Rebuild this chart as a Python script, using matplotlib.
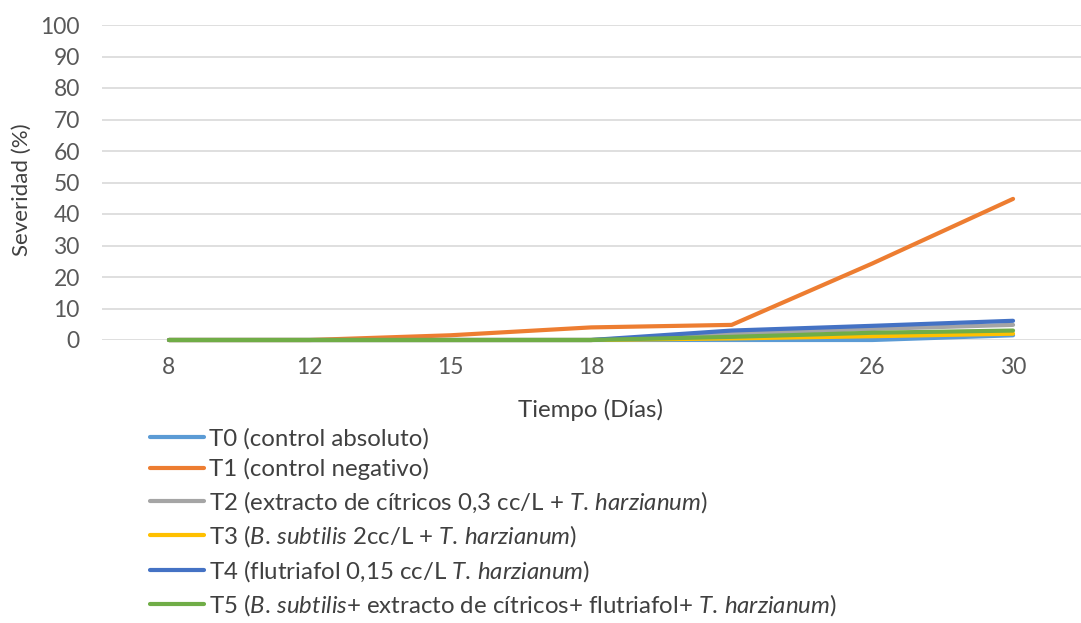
import matplotlib
matplotlib.use("Agg")
import matplotlib.pyplot as plt

plt.rcParams['font.family'] = ['Lato', 'DejaVu Sans']
plt.rcParams['mathtext.fontset'] = 'custom'
plt.rcParams['mathtext.it'] = 'Lato:italic'
plt.rcParams['mathtext.rm'] = 'Lato'

dias = ["8", "12", "15", "18", "22", "26", "30"]
t0 = [0, 0, 0, 0, 0, 0, 1.5]
t1 = [0, 0, 1.5, 4, 4.8, 24.3, 44.8]
t2 = [0, 0, 0, 0, 2, 3.5, 4.8]
t3 = [0, 0, 0, 0, 0.5, 1.2, 2]
t4 = [0, 0, 0, 0, 3, 4.5, 6.1]
t5 = [0, 0, 0, 0, 1, 2.3, 3]

labels = [
    "T0 (control absoluto)",
    "T1 (control negativo)",
    r"T2 (extracto de cítricos 0,3 cc/L + $\mathit{T.\,harzianum}$)",
    r"T3 ($\mathit{B.\,subtilis}$ 2cc/L + $\mathit{T.\,harzianum}$)",
    r"T4 (flutriafol 0,15 cc/L $\mathit{T.\,harzianum}$)",
    r"T5 ($\mathit{B.\,subtilis}$+ extracto de cítricos+ flutriafol+ $\mathit{T.\,harzianum}$)",
]
colors = ["#5B9BD5", "#ED7D31", "#A5A5A5", "#FFC000", "#4472C4", "#70AD47"]
series = [t0, t1, t2, t3, t4, t5]

W, H = 1081, 623
fig = plt.figure(figsize=(W / 100, H / 100), dpi=100)
ax = fig.add_axes([102 / W, (H - 340) / H, (W - 102) / W, 315 / H])

x = list(range(len(dias)))
for s, c, l in zip(series, colors, labels):
    ax.plot(x, s, color=c, lw=3, label=l, solid_capstyle='round', clip_on=False)

ax.set_xlim(-0.476, 6.483)
ax.set_ylim(0, 100)
ax.set_yticks(range(0, 101, 10))
ax.set_xticks(x)
ax.set_xticklabels(dias)
ax.grid(axis='y', color='#D9D9D9', lw=1.2)
ax.set_axisbelow(True)
for sp in ax.spines.values():
    sp.set_visible(False)
ax.tick_params(length=0, labelsize=16.5, colors='#595959')
ax.tick_params(axis='y', pad=16)
ax.tick_params(axis='x', pad=12)

fig.text(22 / W, 1 - 190 / H, "Severidad (%)", rotation=90, ha='center', va='center',
         fontsize=16, color='#404040')
fig.text(591 / W, 1 - 410 / H, "Tiempo (Días)", ha='center', va='center',
         fontsize=17.3, color='#404040')

leg = fig.legend(loc='upper left', bbox_to_anchor=(150 / W, 1 - 428 / H), frameon=False,
                 fontsize=17.3, handlelength=2.26, handletextpad=0.2, labelspacing=0.36,
                 borderpad=0, borderaxespad=0)
for t in leg.get_texts():
    t.set_color('#404040')

fig.savefig("out.png", dpi=100)
